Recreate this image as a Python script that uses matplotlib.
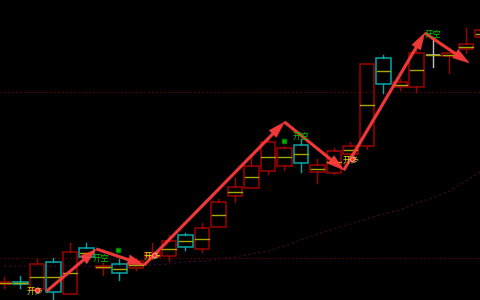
import numpy as np
import matplotlib
matplotlib.use("Agg")
import matplotlib.pyplot as plt
from matplotlib.patches import Rectangle

plt.rcParams['font.family'] = ['Noto Sans CJK SC', 'DejaVu Sans']

# candle data (price units, one candle per bar)
opens = [16, 18, 11, 38, 6, 52, 32, 36, 32, 43, 44, 65, 51, 73, 104, 112, 129, 134, 155, 128, 127, 146, 154, 242, 213, 213, 245, 244, 251, 263]
closes = [18, 16, 36, 8, 48, 43, 34, 27, 39, 47, 59, 53, 72, 98, 113, 134, 158, 152, 137, 135, 149, 154, 236, 216, 218, 247, 245, 247, 256, 270]
highs = [23, 24, 41, 42, 57, 57, 37, 41, 42, 57, 65, 67, 77, 101, 122, 143, 162, 154, 161, 141, 152, 158, 236, 245, 221, 250, 262, 247, 272, 273]
lows = [12, 12, 11, 1, 6, 38, 25, 20, 30, 42, 39, 50, 48, 73, 98, 112, 126, 130, 128, 117, 126, 144, 151, 207, 210, 208, 233, 227, 247, 260]

# moving average (dotted curve)
ma = [34, 34, 34, 34, 34, 34, 34, 34, 34, 35, 36, 38, 39, 41, 43, 46, 49, 54, 60, 66, 71, 76, 81, 86, 90, 97, 102, 109, 119, 130]

# support / resistance levels
levels = [208, 42]

# signal path (bar position, price)
sig_x = [2.6, 5.6, 8.5, 17.0, 20.6, 25.5, 28.2, 29.4]
sig_y = [9, 51, 35, 178, 130, 267, 237, 285]

# labels
long_x = [1.9, 9.0, 21.0]
long_y = [9, 44, 140]
short_x = [5.9, 18.0, 26.0]
short_y = [42, 164, 266]
dot_x = [6.9, 17.0]
dot_y = [50, 159]

fig = plt.figure(figsize=(4.8, 3.0), dpi=100)
ax = fig.add_axes([0, 0, 1, 1])
fig.patch.set_facecolor('black')
ax.set_facecolor('black')

up_col = '#a00000'
down_col = '#00a8a8'
mid_col = '#a8a800'
w = 0.9

for i, (o, c, h, l) in enumerate(zip(opens, closes, highs, lows)):
    if o == c:
        col = '#c0c0c0'
    else:
        col = up_col if c > o else down_col
    lo, hi = min(o, c), max(o, c)
    ax.plot([i, i], [hi, h], color=col, lw=1.0, zorder=2)
    ax.plot([i, i], [l, lo], color=col, lw=1.0, zorder=2)
    ax.add_patch(Rectangle((i - w / 2, lo), w, max(hi - lo, 0.5), fill=False,
                           edgecolor=col, lw=1.1, zorder=3))
    ax.plot([i - w / 2 + 0.05, i + w / 2 - 0.05], [(o + c) / 2, (o + c) / 2],
            color=mid_col, lw=1.0, zorder=4)

xs = np.arange(len(ma))
ax.plot(xs, ma, color='#35082e', lw=0.9, linestyle=(0, (2, 2)), zorder=1)

for lv in levels:
    ax.axhline(lv, color='#7a0000', lw=0.8, linestyle=(0, (1, 2.5)), zorder=1)

for k in range(len(sig_x) - 1):
    ax.annotate('', xy=(sig_x[k + 1], sig_y[k + 1]), xytext=(sig_x[k], sig_y[k]),
                arrowprops=dict(arrowstyle='simple,head_length=1.0,head_width=0.6,tail_width=0.16',
                                color='#ff3c3c', alpha=0.95, lw=0.3,
                                shrinkA=0, shrinkB=0, mutation_scale=12),
                zorder=6)

for x, y in zip(long_x, long_y):
    ax.text(x, y, '开多', color='#d8d800', fontsize=6, ha='center', va='center', zorder=7)
    ax.plot(x + 0.1, y + 1, 'o', ms=3, color='#ff2020', mec='#ff8080', zorder=8)
for x, y in zip(short_x, short_y):
    ax.text(x, y, '开空', color='#00c000', fontsize=6, ha='center', va='center', zorder=7)
ax.plot(dot_x, dot_y, 's', ms=3, color='#00c000', mec='#008000', zorder=7)

ax.set_xlim(-0.24, 28.85)
ax.set_ylim(0, 300)
ax.axis('off')

fig.savefig('out.png', dpi=100, facecolor='black')
